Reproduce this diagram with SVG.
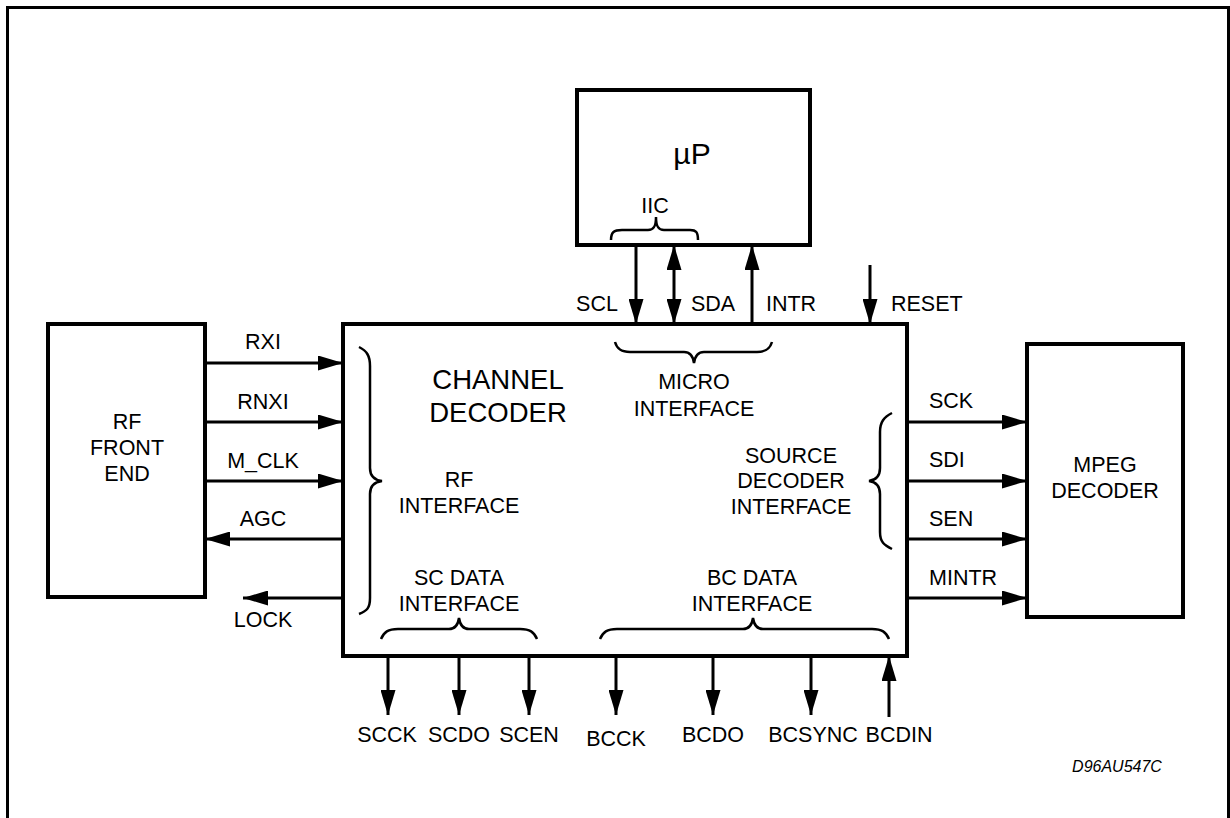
<svg xmlns="http://www.w3.org/2000/svg" width="1230" height="818" viewBox="0 0 1230 818">
<style>
text{font-family:"Liberation Sans",Arial,sans-serif;fill:#000}
.lbl{font-size:21.5px}
.mid{text-anchor:middle}
.box{fill:#fff;stroke:#000;stroke-width:4}
.wire{stroke:#000;stroke-width:3;fill:none}
.brace{stroke:#000;stroke-width:2.5;fill:none}
</style>
<defs>
<marker id="ah" markerWidth="25" markerHeight="15" refX="25" refY="7.5" orient="auto-start-reverse" markerUnits="userSpaceOnUse" viewBox="0 0 25 15">
<path d="M0,0 L25,7.5 L0,15 z" fill="#000"/>
</marker>
</defs>
<rect width="1230" height="818" fill="#fff"/>
<path d="M7.5,818 L7.5,7.5 L1228.5,7.5 L1228.5,818" fill="none" stroke="#000" stroke-width="3"/>

<g id="up">
<rect class="box" x="577" y="90" width="233" height="155"/>
<text x="692" y="164" class="mid" font-size="30">µP</text>
<text x="655" y="213" class="lbl mid">IIC</text>
<path class="brace" d="M611,240 C611,232 614,230 622,230 L648,230 C654,230 656,226 656,217 C656,226 658,230 664,230 L690,230 C696,230 698,232 698,240"/>
</g>

<g id="rf">
<rect class="box" x="48" y="324" width="157" height="273"/>
<text x="127" y="429" class="lbl mid">RF</text>
<text x="127" y="455" class="lbl mid">FRONT</text>
<text x="127" y="481" class="lbl mid">END</text>
</g>

<g id="chan">
<rect class="box" x="343" y="324" width="564" height="332"/>
<text x="498" y="389" class="mid" font-size="27.5">CHANNEL</text>
<text x="498" y="422" class="mid" font-size="27.5">DECODER</text>
<text x="694" y="389" class="lbl mid">MICRO</text>
<text x="694" y="416" class="lbl mid">INTERFACE</text>
<text x="459" y="487" class="lbl mid">RF</text>
<text x="459" y="513" class="lbl mid">INTERFACE</text>
<text x="791" y="463" class="lbl mid">SOURCE</text>
<text x="791" y="488" class="lbl mid">DECODER</text>
<text x="791" y="514" class="lbl mid">INTERFACE</text>
<text x="459" y="585" class="lbl mid">SC DATA</text>
<text x="459" y="611" class="lbl mid">INTERFACE</text>
<text x="752" y="585" class="lbl mid">BC DATA</text>
<text x="752" y="611" class="lbl mid">INTERFACE</text>
<path class="brace" d="M359,347 C367,351 370,356 370,366 L370,468 C370,476 374,480 382,481 C374,482 370,486 370,494 L370,598 C370,608 367,611 359,614"/>
<path class="brace" d="M892,413 C884,417 880,422 880,432 L880,468 C880,476 876,480 869,481 C876,482 880,486 880,494 L880,532 C880,542 884,545 892,549"/>
<path class="brace" d="M615,342 C617,349 621,352 630,352 L684,352 C690,352 693,356 694,363 C695,356 698,352 704,352 L757,352 C766,352 770,349 772,342"/>
<path class="brace" d="M381,639 C384,632 388,629 398,629 L449,629 C455,629 458,625 459,618 C460,625 463,629 469,629 L520,629 C530,629 534,632 537,639"/>
<path class="brace" d="M600,639 C603,632 607,629 617,629 L743,629 C749,629 752,625 753,618 C754,625 757,629 763,629 L872,629 C882,629 886,632 889,639"/>
</g>

<g id="mpeg">
<rect class="box" x="1027" y="344" width="156" height="273"/>
<text x="1105" y="472" class="lbl mid">MPEG</text>
<text x="1105" y="498" class="lbl mid">DECODER</text>
</g>

<g id="connectors">
<line class="wire" x1="205" y1="363" x2="343" y2="363" marker-end="url(#ah)"/>
<line class="wire" x1="205" y1="422" x2="343" y2="422" marker-end="url(#ah)"/>
<line class="wire" x1="205" y1="481" x2="343" y2="481" marker-end="url(#ah)"/>
<line class="wire" x1="343" y1="539" x2="205" y2="539" marker-end="url(#ah)"/>
<line class="wire" x1="343" y1="598" x2="243" y2="598" marker-end="url(#ah)"/>
<line class="wire" x1="636" y1="245" x2="636" y2="324" marker-end="url(#ah)"/>
<line class="wire" x1="674" y1="245" x2="674" y2="324" marker-start="url(#ah)" marker-end="url(#ah)"/>
<line class="wire" x1="752" y1="324" x2="752" y2="245" marker-end="url(#ah)"/>
<line class="wire" x1="870" y1="265" x2="870" y2="324" marker-end="url(#ah)"/>
<line class="wire" x1="907" y1="422" x2="1027" y2="422" marker-end="url(#ah)"/>
<line class="wire" x1="907" y1="481" x2="1027" y2="481" marker-end="url(#ah)"/>
<line class="wire" x1="907" y1="539" x2="1027" y2="539" marker-end="url(#ah)"/>
<line class="wire" x1="907" y1="598" x2="1027" y2="598" marker-end="url(#ah)"/>
<line class="wire" x1="388" y1="656" x2="388" y2="715" marker-end="url(#ah)"/>
<line class="wire" x1="459" y1="656" x2="459" y2="715" marker-end="url(#ah)"/>
<line class="wire" x1="529" y1="656" x2="529" y2="715" marker-end="url(#ah)"/>
<line class="wire" x1="616" y1="656" x2="616" y2="715" marker-end="url(#ah)"/>
<line class="wire" x1="713" y1="656" x2="713" y2="715" marker-end="url(#ah)"/>
<line class="wire" x1="811" y1="656" x2="811" y2="715" marker-end="url(#ah)"/>
<line class="wire" x1="889" y1="717" x2="889" y2="656" marker-end="url(#ah)"/>
</g>

<g id="labels">
<text x="263" y="349" class="lbl mid">RXI</text>
<text x="263" y="409" class="lbl mid">RNXI</text>
<text x="263" y="468" class="lbl mid">M_CLK</text>
<text x="263" y="526" class="lbl mid">AGC</text>
<text x="263" y="627" class="lbl mid">LOCK</text>
<text x="597" y="311" class="lbl mid">SCL</text>
<text x="713" y="311" class="lbl mid">SDA</text>
<text x="791" y="311" class="lbl mid">INTR</text>
<text x="891" y="311" class="lbl">RESET</text>
<text x="929" y="408" class="lbl">SCK</text>
<text x="929" y="467" class="lbl">SDI</text>
<text x="929" y="526" class="lbl">SEN</text>
<text x="929" y="585" class="lbl">MINTR</text>
<text x="387" y="742" class="lbl mid">SCCK</text>
<text x="459" y="742" class="lbl mid">SCDO</text>
<text x="529" y="742" class="lbl mid">SCEN</text>
<text x="616" y="746" class="lbl mid">BCCK</text>
<text x="713" y="742" class="lbl mid">BCDO</text>
<text x="813" y="742" class="lbl mid">BCSYNC</text>
<text x="899" y="742" class="lbl mid">BCDIN</text>
<text x="1117" y="772" class="mid" font-size="16" font-style="italic">D96AU547C</text>
</g>
</svg>
